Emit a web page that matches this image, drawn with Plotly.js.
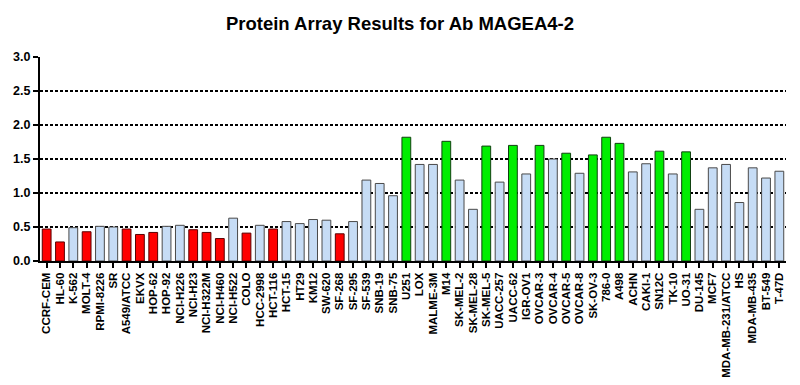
<!DOCTYPE html>
<html>
<head>
<meta charset="utf-8">
<script src="https://cdn.plot.ly/plotly-3.0.1.min.js"></script>
<style>html,body{margin:0;padding:0;background:#fff;}#chart{width:800px;height:385px;}</style>
</head>
<body>
<div id="chart"></div>
<script>
const cellLines = ["CCRF-CEM","HL-60","K-562","MOLT-4","RPMI-8226","SR","A549/ATCC","EKVX","HOP-62","HOP-92","NCI-H226","NCI-H23","NCI-H322M","NCI-H460","NCI-H522","COLO","HCC-2998","HCT-116","HCT-15","HT29","KM12","SW-620","SF-268","SF-295","SF-539","SNB-19","SNB-75","U251","LOX","MALME-3M","M14","SK-MEL-2","SK-MEL-28","SK-MEL-5","UACC-257","UACC-62","IGR-OV1","OVCAR-3","OVCAR-4","OVCAR-5","OVCAR-8","SK-OV-3","786-0","A498","ACHN","CAKI-1","SN12C","TK-10","UO-31","DU-145","MCF7","MDA-MB-231/ATCC","HS","MDA-MB-435","BT-549","T-47D"];
const values = [0.47,0.28,0.49,0.43,0.51,0.50,0.47,0.39,0.42,0.51,0.525,0.46,0.42,0.33,0.63,0.41,0.525,0.47,0.58,0.55,0.61,0.60,0.40,0.58,1.19,1.14,0.96,1.82,1.42,1.42,1.76,1.19,0.76,1.69,1.16,1.70,1.28,1.70,1.50,1.585,1.29,1.56,1.82,1.73,1.31,1.43,1.615,1.28,1.605,0.76,1.37,1.42,0.86,1.37,1.22,1.32];
const status = ["low","low","","low","","","low","low","low","","","low","low","low","","low","","low","","","","","low","","","","","high","","","high","","","high","","high","","high","","high","","high","high","high","","","high","","high","","","","","","",""];
const yTicks = [0,0.5,1.0,1.5,2.0,2.5,3.0];
const yTickText = ["0.0","0.5","1.0","1.5","2.0","2.5","3.0"];

const fillFor = s => s === "low" ? "#ff0000" : (s === "high" ? "#00ee00" : "#c6dcf5");
const lineFor = s => s === "low" ? "#5a0000" : (s === "high" ? "#104010" : "#4a4a4a");

const trace = {
  type: "bar",
  x: cellLines.map((c,i)=>i),
  y: values,
  width: 0.66,
  marker: {
    color: status.map(fillFor),
    line: {color: status.map(lineFor), width: 1}
  },
  hoverinfo: "x+y"
};

const layout = {
  width: 800, height: 385,
  margin: {l: 40, r: 14, t: 57, b: 124},
  paper_bgcolor: "#fff", plot_bgcolor: "#fff",
  title: {text: "<b>Protein Array Results for Ab MAGEA4-2</b>", x: 0.5, xanchor: "center", y: 0.94, yanchor: "middle",
          font: {family: "Liberation Sans, Arial, sans-serif", size: 18.5, color: "#000"}},
  showlegend: false,
  xaxis: {
    range: [-0.5, cellLines.length - 0.5],
    tickmode: "array",
    tickvals: cellLines.map((c,i)=>i),
    ticktext: cellLines.map(c=>"<b>"+c+"</b>"),
    tickangle: -90,
    tickfont: {family: "Liberation Sans, Arial, sans-serif", size: 11.5, color: "#000"},
    ticks: "outside", ticklen: 5, tickwidth: 2, tickcolor: "#000",
    showline: true, linecolor: "#000", linewidth: 2,
    showgrid: false, zeroline: false, fixedrange: true
  },
  yaxis: {
    range: [0, 3.0],
    tickmode: "array",
    tickvals: yTicks,
    ticktext: yTickText.map(t=>"<b>"+t+"</b>"),
    tickfont: {family: "Liberation Sans, Arial, sans-serif", size: 12.5, color: "#000"},
    ticks: "outside", ticklen: 5, tickwidth: 2, tickcolor: "#000",
    showline: true, linecolor: "#000", linewidth: 2,
    showgrid: true, gridcolor: "#000", gridwidth: 1.5, griddash: "3px,2px",
    zeroline: false, fixedrange: true
  }
};

Plotly.newPlot("chart", [trace], layout, {displayModeBar: false, staticPlot: true});
</script>
</body>
</html>
